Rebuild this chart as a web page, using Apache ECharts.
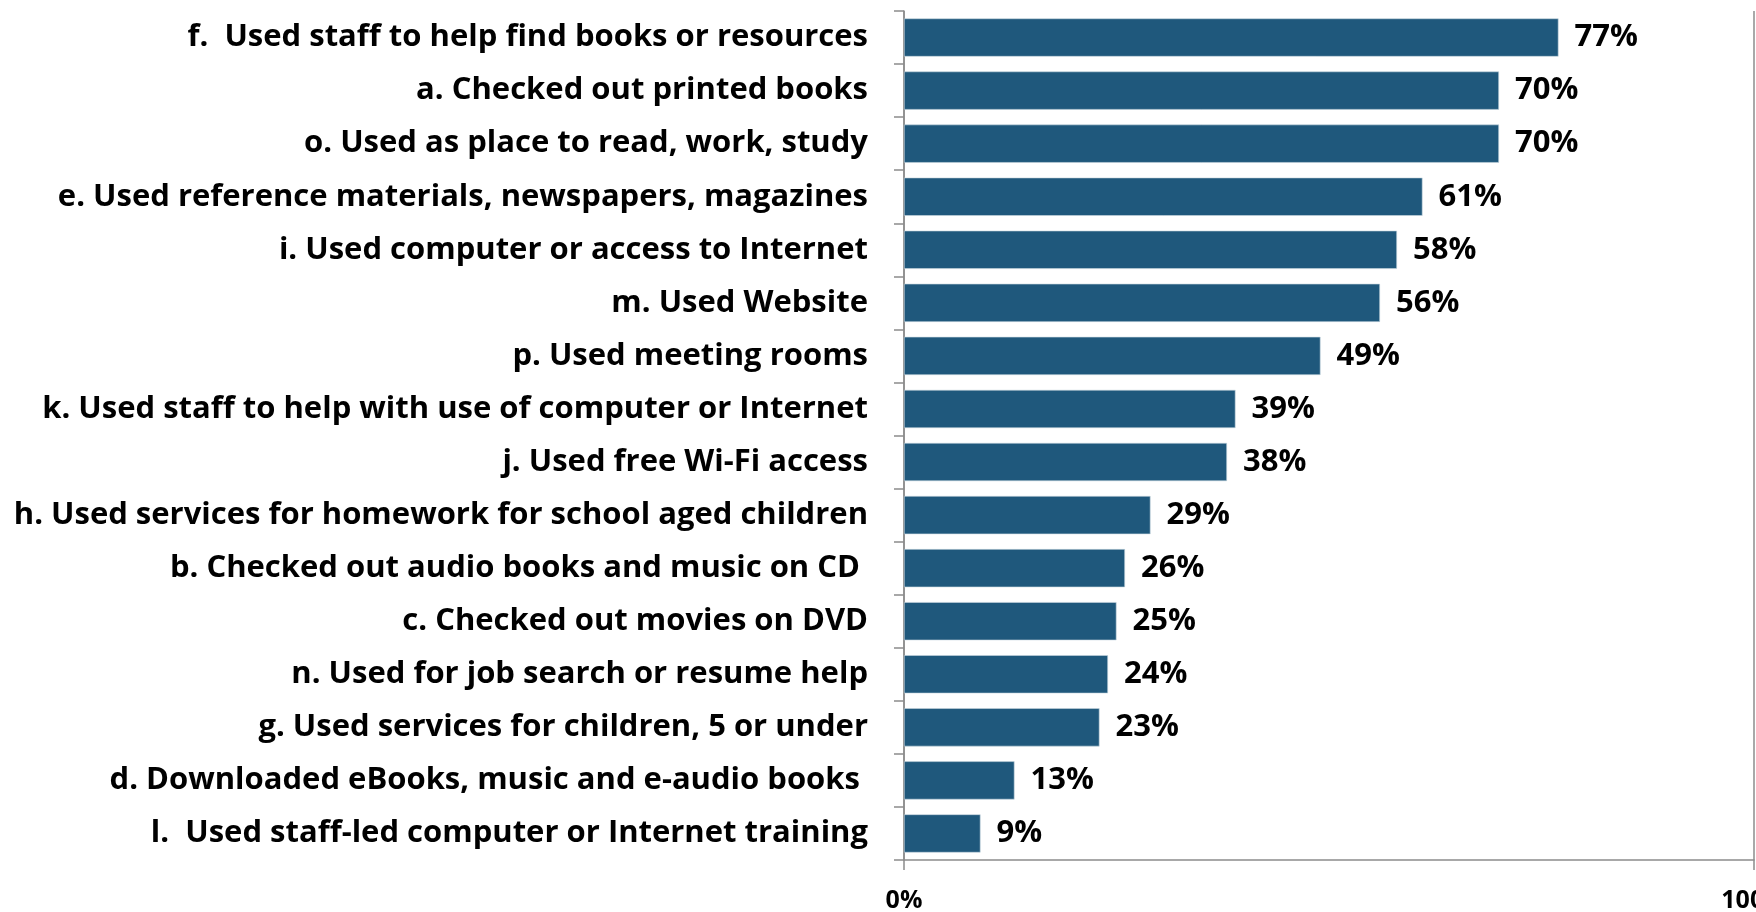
<!DOCTYPE html>
<html>
<head>
<meta charset="utf-8">
<script src="https://cdn.jsdelivr.net/npm/echarts@6/dist/echarts.min.js"></script>
<style>
  html, body { margin: 0; padding: 0; background: #fff; }
  #chart { width: 1756px; height: 912px; }
</style>
</head>
<body>
<div id="chart"></div>
<script>
// Library services used, share of respondents (%)
const categories = [
  'f.  Used staff to help find books or resources',
  'a. Checked out printed books',
  'o. Used as place to read, work, study',
  'e. Used reference materials, newspapers, magazines',
  'i. Used computer or access to Internet',
  'm. Used Website',
  'p. Used meeting rooms',
  'k. Used staff to help with use of computer or Internet',
  'j. Used free Wi-Fi access',
  'h. Used services for homework for school aged children',
  'b. Checked out audio books and music on CD ',
  'c. Checked out movies on DVD',
  'n. Used for job search or resume help',
  'g. Used services for children, 5 or under',
  'd. Downloaded eBooks, music and e-audio books ',
  'l.  Used staff-led computer or Internet training'
];
const values = [77, 70, 70, 61, 58, 56, 49, 39, 38, 29, 26, 25, 24, 23, 13, 9];
const axisTicks = [0, 100];

const FONT = '"Open Sans", Lato, sans-serif';
const AXIS_GRAY = '#8c8c8c';

const chart = echarts.init(document.getElementById('chart'), null, { renderer: 'canvas' });
chart.setOption({
  animation: false,
  backgroundColor: '#ffffff',
  grid: { left: 904, right: 2, top: 11, bottom: 52, containLabel: false, outerBoundsMode: 'none' },
  xAxis: {
    type: 'value',
    min: axisTicks[0],
    max: axisTicks[axisTicks.length - 1],
    interval: axisTicks[1] - axisTicks[0],
    axisLine: { show: true, lineStyle: { color: AXIS_GRAY, width: 1.5 } },
    axisTick: { show: true, length: 10, lineStyle: { color: AXIS_GRAY, width: 1.5 } },
    splitLine: { show: true, lineStyle: { color: AXIS_GRAY, width: 1.5 } },
    axisLabel: {
      formatter: '{value}%',
      margin: 28,
      color: '#000',
      fontFamily: FONT,
      fontWeight: 'bold',
      fontSize: 25
    }
  },
  yAxis: {
    type: 'category',
    data: categories,
    inverse: true,
    axisLine: { show: true, lineStyle: { color: AXIS_GRAY, width: 1.5 } },
    axisTick: { show: true, length: 10, alignWithLabel: false, lineStyle: { color: AXIS_GRAY, width: 1.5 } },
    axisLabel: {
      margin: 36,
      color: '#000',
      fontFamily: FONT,
      fontWeight: 'bold',
      fontSize: 31
    }
  },
  series: [{
    type: 'bar',
    data: values,
    barCategoryGap: '28%',
    itemStyle: { color: '#1F587C', borderColor: '#c9d6df', borderWidth: 0.6 },
    label: {
      show: true,
      position: 'right',
      distance: 16,
      formatter: '{c}%',
      color: '#000',
      fontFamily: FONT,
      fontWeight: 'bold',
      fontSize: 31
    }
  }]
});
</script>
</body>
</html>
